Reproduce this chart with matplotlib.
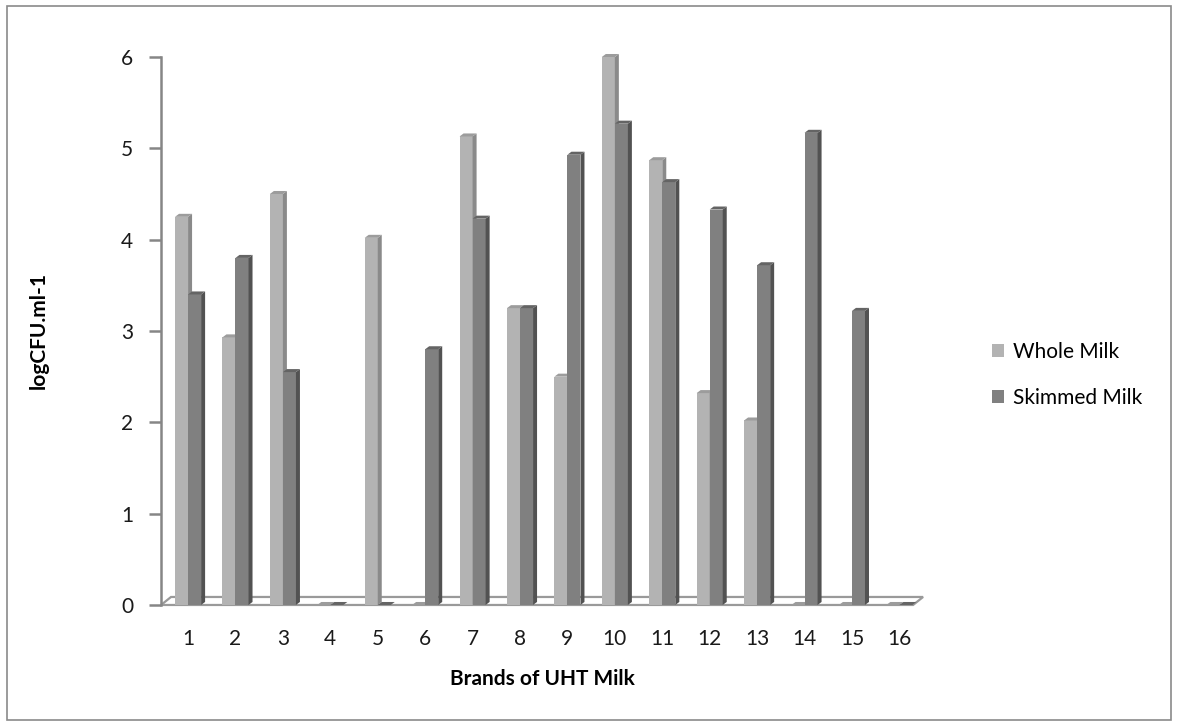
import matplotlib.pyplot as plt
from matplotlib.patches import Patch, Rectangle

brands = [str(i) for i in range(1, 17)]
whole_milk = [4.25, 2.93, 4.5, 0, 4.02, 0, 5.13, 3.25, 2.5, 6.0, 4.87, 2.32, 2.02, 0, 0, 0]
skimmed_milk = [3.4, 3.8, 2.55, 0, 0, 2.8, 4.23, 3.25, 4.93, 5.27, 4.63, 4.33, 3.72, 5.17, 3.22, 0]

plt.rcParams['font.family'] = ['Lato', 'DejaVu Sans']

fig = plt.figure(figsize=(11.78, 7.26), dpi=100)
ax = fig.add_axes([0.1367, 0.1667, 0.6469, 0.7548])

xmin, xmax = 0.43, 16.5
ax.set_xlim(xmin, xmax)
ax.set_ylim(0, 6)

# pixel sizes of the fake 3d depth, turned into data units
ppx = 762 / (xmax - xmin)
ppy = 548 / 6
dx, dy = 4 / ppx, 3 / ppy
w = 0.275

styles = [
    (whole_milk, -w / 2, '#b3b3b3', '#8a8a8a', '#9c9c9c', 2),
    (skimmed_milk, w / 2, '#808080', '#525252', '#646464', 3),
]

x = range(1, len(brands) + 1)
for vals, off, front, side, top, z in styles:
    for xi, h in zip(x, vals):
        left, right = xi + off - w / 2, xi + off + w / 2
        if h > 0:
            ax.bar(xi + off, h, w, color=front, zorder=z, linewidth=0, clip_on=False)
            ax.fill([right, right + dx, right + dx, right],
                    [0, dy, h + dy, h], color=side, zorder=z, linewidth=0,
                    clip_on=False)
        ax.fill([left, right, right + dx, left + dx],
                [h, h, h + dy, h + dy], color=top, zorder=z, linewidth=0,
                clip_on=False)

# floor of the chart
fdx, fdy = 10 / ppx, 8 / ppy
ax.fill([xmin, xmax - fdx, xmax, xmin + fdx], [0, 0, fdy, fdy],
        facecolor='none', edgecolor='#9a9a9a', linewidth=1.6,
        zorder=1, clip_on=False)

for s in ['top', 'right', 'bottom']:
    ax.spines[s].set_visible(False)
ax.spines['left'].set_color('#868686')
ax.spines['left'].set_linewidth(1.8)

ax.set_yticks(range(0, 7))
ax.tick_params(axis='y', length=9, width=1.8, color='#868686',
               labelsize=15, pad=11, labelcolor='#1a1a1a')
ax.set_xticks(list(x))
ax.set_xticklabels(brands)
ax.tick_params(axis='x', length=0, labelsize=15, pad=17, labelcolor='#1a1a1a')

ax.set_ylabel('logCFU.ml-1', fontsize=15, fontweight='bold', labelpad=52)
ax.set_xlabel('Brands of UHT Milk', fontsize=15, fontweight='bold', labelpad=15)

handles = [Patch(facecolor='#b3b3b3', label='Whole Milk'),
           Patch(facecolor='#808080', label='Skimmed Milk')]
fig.legend(handles=handles, loc='center left', bbox_to_anchor=(0.826, 0.4835),
           frameon=False, fontsize=15, handlelength=0.6, handleheight=0.6,
           handletextpad=0.4, labelspacing=1.25)

fig.patches.append(Rectangle((0.006, 0.008), 0.988, 0.984, transform=fig.transFigure,
                             fill=False, edgecolor='#8a8a8a', linewidth=1.2))

fig.savefig('out.png', dpi=100)
